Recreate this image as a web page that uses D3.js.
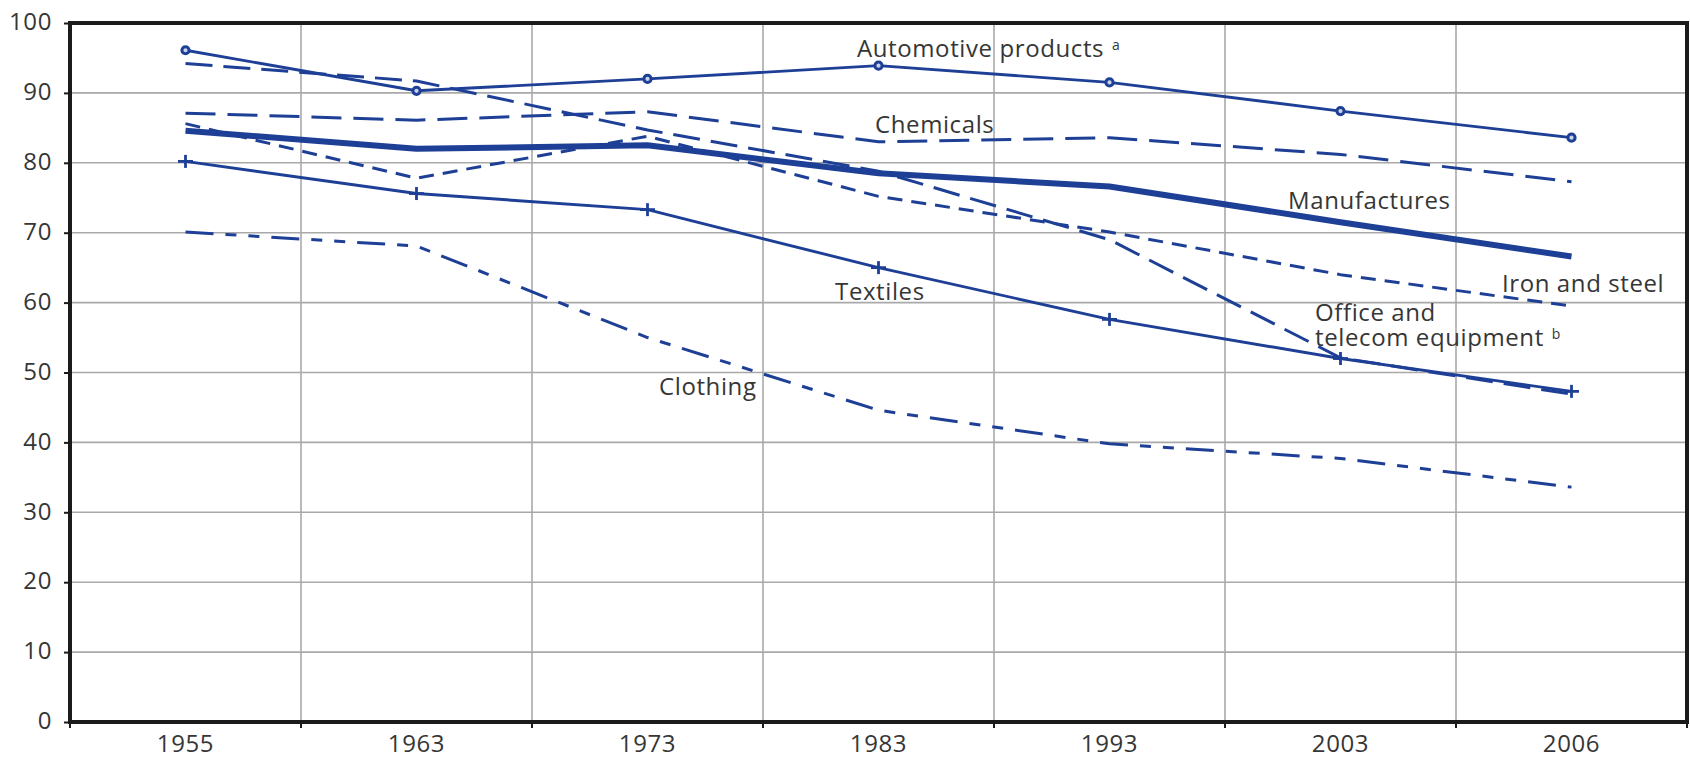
<!DOCTYPE html>
<html>
<head>
<meta charset="utf-8">
<script src="https://cdn.jsdelivr.net/npm/d3@7"></script>
<style>
  html, body { margin: 0; padding: 0; background: #fff; }
  svg { display: block; }
  text { font-family: "Open Sans", "Noto Sans", sans-serif; fill: #363636; }
</style>
</head>
<body>
<svg id="chart" width="1690" height="759"></svg>
<script>
// ---- data ----
const years = ["1955", "1963", "1973", "1983", "1993", "2003", "2006"];
const yTicks = [0, 10, 20, 30, 40, 50, 60, 70, 80, 90, 100];

const automotive   = [96.1, 90.3, 92.0, 93.9, 91.5, 87.4, 83.6];
const chemicals    = [87.1, 86.1, 87.3, 83.0, 83.6, 81.2, 77.3];
const office       = [94.2, 91.7, 84.7, 78.8, 69.0, 52.1, 46.9];
const manufactures = [84.6, 82.0, 82.5, 78.5, 76.6, 71.5, 66.6];
const ironSteel    = [85.6, 77.8, 83.8, 75.2, 70.1, 64.0, 59.5];
const textiles     = [80.2, 75.6, 73.3, 65.0, 57.6, 52.0, 47.3];
const clothing     = [70.1, 68.1, 55.0, 44.6, 39.8, 37.7, 33.6];

(function () {
// ---- layout ----
const mLeft = 70, mRight = 1687, mTop = 23, mBottom = 722;
const blue = "#1e3f96";

const svg = d3.select("#chart");

const x = d3.scalePoint().domain(years).range([mLeft, mRight]).padding(0.5);
const band = d3.scaleBand().domain(years).range([mLeft, mRight]);
const xi = d3.scaleLinear().domain([-0.5, years.length - 0.5]).range([mLeft, mRight]);
const y = d3.scaleLinear().domain([0, 100]).range([mBottom, mTop]);

// gridlines
const grid = svg.append("g");
grid.selectAll("line.h").data(yTicks.filter(d => d > 0 && d < 100)).join("line")
  .attr("class", "h")
  .attr("x1", mLeft).attr("x2", mRight)
  .attr("y1", d => y(d)).attr("y2", d => y(d))
  .attr("stroke", "#a9a9a9").attr("stroke-width", 1.6);
grid.selectAll("line.v").data(years.slice(1)).join("line")
  .attr("class", "v")
  .attr("x1", d => band(d)).attr("x2", d => band(d))
  .attr("y1", mTop).attr("y2", mBottom)
  .attr("stroke", "#a9a9a9").attr("stroke-width", 1.6);

// series
const series = [
  { name: "Chemicals", values: chemicals, width: 3, dash: "30,12" },
  { name: "Office", values: office, width: 3, dash: "27,11" },
  { name: "Iron", values: ironSteel, width: 3, dash: "15,9" },
  { name: "Clothing", values: clothing, width: 3, dash: "28,12,11,12,11,12" },
  { name: "Textiles", values: textiles, width: 2.9, dash: null, marker: "plus" },
  { name: "Automotive", values: automotive, width: 2.9, dash: null, marker: "circle" },
  { name: "Manufactures", values: manufactures, width: 6, dash: null }
];

const line = d3.line().x((d, i) => x(years[i])).y(d => y(d));

const lines = svg.append("g");
series.forEach(s => {
  lines.append("path")
    .attr("d", line(s.values))
    .attr("fill", "none")
    .attr("stroke", blue)
    .attr("stroke-width", s.width)
    .attr("stroke-linejoin", "round")
    .attr("stroke-dasharray", s.dash);
  if (s.marker === "circle") {
    lines.append("g").selectAll("circle").data(s.values).join("circle")
      .attr("cx", (d, i) => x(years[i])).attr("cy", d => y(d))
      .attr("r", 3.6).attr("fill", "#c9d2ea")
      .attr("stroke", blue).attr("stroke-width", 3);
  } else if (s.marker === "plus") {
    const g = lines.append("g").selectAll("g").data(s.values).join("g")
      .attr("transform", (d, i) => `translate(${x(years[i])},${y(d)})`);
    g.append("line").attr("x1", -7.5).attr("x2", 7.5).attr("y1", 0).attr("y2", 0)
      .attr("stroke", blue).attr("stroke-width", 2.8);
    g.append("line").attr("x1", 0).attr("x2", 0).attr("y1", -6.5).attr("y2", 6.5)
      .attr("stroke", blue).attr("stroke-width", 2.8);
  }
});

// frame
svg.append("rect")
  .attr("x", mLeft).attr("y", mTop)
  .attr("width", mRight - mLeft).attr("height", mBottom - mTop)
  .attr("fill", "none").attr("stroke", "#1b1b1b").attr("stroke-width", 4);

// y axis
const yAxis = d3.axisLeft(y).tickValues(yTicks).tickSize(6).tickPadding(12);
const ya = svg.append("g").attr("transform", `translate(${mLeft},0)`).call(yAxis);
ya.select(".domain").remove();
ya.selectAll(".tick line").attr("stroke", "#1b1b1b").attr("stroke-width", 2);
ya.selectAll(".tick text")
  .attr("font-size", 24).attr("letter-spacing", "0.6px")
  .attr("font-family", "Open Sans").attr("fill", "#363636")
  .attr("dy", "0.28em");

// x axis ticks at band boundaries
const xb = svg.append("g");
xb.selectAll("line").data(years.map(d => band(d)).concat([mRight])).join("line")
  .attr("x1", d => d).attr("x2", d => d)
  .attr("y1", mBottom).attr("y2", mBottom + 6)
  .attr("stroke", "#1b1b1b").attr("stroke-width", 2);
xb.selectAll("text").data(years).join("text")
  .attr("x", d => x(d)).attr("y", 752)
  .attr("text-anchor", "middle")
  .attr("font-size", 24).attr("letter-spacing", "0.6px")
  .text(d => d);

// series labels (positions in index / value space); multi-line labels use tspans
const labelTexts = [
  { lines: ["Automotive products"], sup: "a", pos: [2.907, 95.14] },
  { lines: ["Chemicals"], pos: [2.985, 84.26] },
  { lines: ["Manufactures"], pos: [4.773, 73.39] },
  { lines: ["Iron and steel"], pos: [5.699, 61.52] },
  { lines: ["Office and", "telecom equipment"], sup: "b", pos: [4.890, 57.37] },
  { lines: ["Textiles"], pos: [2.812, 60.37] },
  { lines: ["Clothing"], pos: [2.050, 46.78] }
];
const lab = svg.append("g");
labelTexts.forEach(l => {
  const x0 = xi(l.pos[0]);
  const t = lab.append("text")
    .attr("x", x0).attr("y", y(l.pos[1]))
    .attr("font-size", 24).attr("letter-spacing", "0.6px");
  l.lines.forEach((ln, k) => {
    t.append("tspan").attr("x", x0).attr("dy", k === 0 ? 0 : 25).text(ln);
  });
  if (l.sup) {
    t.append("tspan").attr("font-size", 14).attr("dx", 8).attr("dy", -7).text(l.sup);
  }
});
})();
</script>
</body>
</html>
